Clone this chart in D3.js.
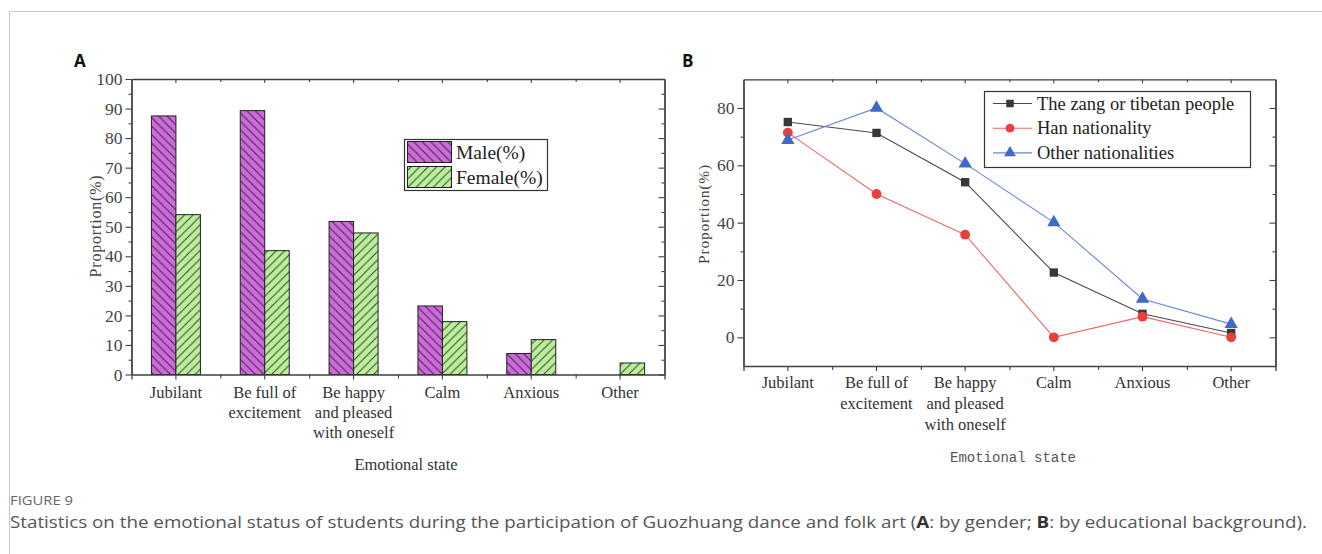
<!DOCTYPE html>
<html>
<head>
<meta charset="utf-8">
<script src="https://cdn.jsdelivr.net/npm/d3@7"></script>
<style>
  body { margin: 0; background: #fff; }
  svg { display: block; }
  .serif { font-family: "Liberation Serif", "Times New Roman", serif; }
</style>
</head>
<body>
<script>
// chart data
var categories = ["Jubilant", "Be full of excitement", "Be happy and pleased with oneself", "Calm", "Anxious", "Other"];
var categoryLines = [["Jubilant"], ["Be full of", "excitement"], ["Be happy", "and pleased", "with oneself"], ["Calm"], ["Anxious"], ["Other"]];
var maleValues = [87.5, 89.3, 51.8, 23.2, 7.1, 0];
var femaleValues = [54.1, 41.9, 47.9, 17.9, 11.8, 3.9];
var zangValues = [75.1, 71.3, 54.1, 22.6, 8.2, 1.5];
var hanValues = [71.4, 50.0, 35.8, 0, 7.2, 0];
var otherValues = [68.8, 80.0, 60.6, 40.1, 13.4, 4.6];
var ticksA = [0, 10, 20, 30, 40, 50, 60, 70, 80, 90, 100];
var ticksB = [0, 20, 40, 60, 80];

var W = 1322, H = 554;
var svg = d3.select("body").append("svg").attr("width", W).attr("height", H);

// card frame
svg.append("rect").attr("x", 9.5).attr("y", 11.5).attr("width", W + 20).attr("height", H + 20)
  .attr("fill", "none").attr("stroke", "#c8c8c8").attr("stroke-width", 1);

var defs = svg.append("defs");
function hatch(id, fill, line, dir) {
  var s = 8.5;
  var p = defs.append("pattern").attr("id", id).attr("patternUnits", "userSpaceOnUse")
    .attr("width", s).attr("height", s);
  p.append("rect").attr("width", s).attr("height", s).attr("fill", fill);
  var d = dir == "back"
    ? "M0,0L" + s + "," + s + "M-1," + (s - 1) + "L1," + (s + 1) + "M" + (s - 1) + ",-1L" + (s + 1) + ",1"
    : "M0," + s + "L" + s + ",0M-1,1L1,-1M" + (s - 1) + "," + (s + 1) + "L" + (s + 1) + "," + (s - 1);
  p.append("path").attr("d", d).attr("stroke", line).attr("stroke-width", 1);
}
hatch("male", "#cb6cd7", "#4a1d58", "back");
hatch("female", "#bdeea0", "#2c4a1c", "fwd");

var axisColor = "#404040";

function styleAxis(g) {
  g.select(".domain").attr("stroke", axisColor).attr("stroke-width", 1.3);
  g.selectAll(".tick line").attr("stroke", axisColor).attr("stroke-width", 1.1);
  g.selectAll(".tick text").attr("fill", "#3a3a3a");
}

function frame(g, x, y, idx, yTicks, yMinor, yMinorLen) {
  var x0 = x.range()[0], x1 = x.range()[1];
  var y0 = y.range()[0], y1 = y.range()[1];
  // bottom axis: category ticks + boundary ticks
  g.append("g").attr("transform", "translate(0," + y0 + ")")
    .call(d3.axisBottom(x).tickSize(5).tickFormat("")).call(styleAxis);
  g.append("g").attr("transform", "translate(0," + y0 + ")")
    .call(d3.axisBottom(idx).tickValues([1, 2, 3, 4, 5]).tickSize(4).tickFormat("")).call(styleAxis)
    .select(".domain").remove();
  // top axis, inward ticks
  g.append("g").attr("transform", "translate(0," + y1 + ")")
    .call(d3.axisBottom(x).tickSize(4).tickSizeOuter(0).tickFormat("")).call(styleAxis);
  g.append("g").attr("transform", "translate(0," + y1 + ")")
    .call(d3.axisBottom(idx).tickValues([1, 2, 3, 4, 5]).tickSize(3).tickFormat("")).call(styleAxis)
    .select(".domain").remove();
  // left axis
  g.append("g").attr("transform", "translate(" + x0 + ",0)")
    .call(d3.axisLeft(y).tickValues(yMinor).tickSize(yMinorLen).tickSizeOuter(0).tickFormat("")).call(styleAxis);
  var la = g.append("g").attr("class", "serif").attr("transform", "translate(" + x0 + ",0)")
    .call(d3.axisLeft(y).tickValues(yTicks).tickSize(6).tickSizeOuter(0).tickPadding(3)).call(styleAxis);
  la.selectAll(".tick text").attr("font-size", 17.5).attr("font-family", "Liberation Serif").attr("fill", "#444");
  // right axis, inward ticks
  g.append("g").attr("transform", "translate(" + x1 + ",0)")
    .call(d3.axisLeft(y).tickValues(yMinor).tickSizeOuter(0).tickFormat("")).call(styleAxis)
    .selectAll(".tick line").attr("x2", -yMinorLen);
  g.append("g").attr("transform", "translate(" + x1 + ",0)")
    .call(d3.axisLeft(y).tickValues(yTicks).tickSizeOuter(0).tickFormat("")).call(styleAxis)
    .selectAll(".tick line").attr("x2", -6);
}

function xLabels(g, x, y0, lineH) {
  categories.forEach(function (c, i) {
    var t = g.append("text").attr("class", "serif").attr("x", x(c) + x.bandwidth() / 2)
      .attr("text-anchor", "middle").attr("font-size", 16.5).attr("fill", "#333");
    categoryLines[i].forEach(function (s, k) {
      t.append("tspan").attr("x", x(c) + x.bandwidth() / 2).attr("y", y0 + k * lineH).text(s);
    });
  });
}

// ---------- panel A ----------
var gA = svg.append("g");
var xA = d3.scaleBand().domain(categories).range([131.5, 664.5]);
var idxA = d3.scaleLinear().domain([0, 6]).range([131.5, 664.5]);
var yA = d3.scaleLinear().domain([0, 100]).range([374.5, 79]);
var barW = 24.5;

gA.selectAll(".male").data(maleValues).enter().append("rect")
  .attr("x", function (d, i) { return xA(categories[i]) + xA.bandwidth() / 2 - barW; })
  .attr("y", function (d) { return yA(d); })
  .attr("width", barW)
  .attr("height", function (d) { return yA(0) - yA(d); })
  .attr("fill", "url(#male)").attr("stroke", "#222").attr("stroke-width", function (d) { return d > 0 ? 1 : 0; });
gA.selectAll(".female").data(femaleValues).enter().append("rect")
  .attr("x", function (d, i) { return xA(categories[i]) + xA.bandwidth() / 2; })
  .attr("y", function (d) { return yA(d); })
  .attr("width", barW)
  .attr("height", function (d) { return yA(0) - yA(d); })
  .attr("fill", "url(#female)").attr("stroke", "#222").attr("stroke-width", 1);

frame(gA, xA, yA, idxA, ticksA, d3.range(5, 100, 10), 3);
xLabels(gA, xA, 398, 20);

gA.append("text").attr("class", "serif").attr("x", 406).attr("y", 470).attr("text-anchor", "middle")
  .attr("font-size", 16.5).attr("fill", "#333").text("Emotional state");
gA.append("text").attr("class", "serif").attr("transform", "translate(101,226) rotate(-90)")
  .attr("text-anchor", "middle").attr("font-size", 16).attr("letter-spacing", 0.8).attr("fill", "#444")
  .text("Proportion(%)");

// legend A
var legA = gA.append("g");
legA.append("rect").attr("x", 404.5).attr("y", 139.5).attr("width", 143).attr("height", 51)
  .attr("fill", "#fff").attr("stroke", "#333").attr("stroke-width", 1.2);
[["male", "Male(%)", 141.5], ["female", "Female(%)", 166.5]].forEach(function (e) {
  legA.append("rect").attr("x", 407.5).attr("y", e[2]).attr("width", 44).attr("height", 21)
    .attr("fill", "url(#" + e[0] + ")").attr("stroke", "#222").attr("stroke-width", 1);
  legA.append("text").attr("class", "serif").attr("x", 456).attr("y", e[2] + 17)
    .attr("font-size", 19.5).attr("fill", "#222").text(e[1]);
});

svg.append("text").attr("x", 74).attr("y", 67).attr("font-family", "Open Sans, sans-serif")
  .attr("font-weight", "bold").attr("font-size", 17).attr("fill", "#111").text("A");

// ---------- panel B ----------
var gB = svg.append("g");
var xB = d3.scaleBand().domain(categories).range([743.5, 1275.5]);
var idxB = d3.scaleLinear().domain([0, 6]).range([743.5, 1275.5]);
var yB = d3.scaleLinear().domain([-10, 90]).range([366, 79.3]);

frame(gB, xB, yB, idxB, ticksB, [10, 30, 50, 70], 3);
xLabels(gB, xB, 388, 21);

gB.append("text").attr("x", 1013).attr("y", 462).attr("text-anchor", "middle")
  .attr("font-family", "Liberation Mono, monospace").attr("font-size", 14).attr("fill", "#555")
  .text("Emotional state");
gB.append("text").attr("class", "serif").attr("transform", "translate(709,214) rotate(-90)")
  .attr("text-anchor", "middle").attr("font-size", 15.5).attr("letter-spacing", 0.8).attr("fill", "#444")
  .text("Proportion(%)");

var seriesB = [
  { name: "The zang or tibetan people", values: zangValues, line: "#4a4a4a", mark: "#383838", shape: d3.symbolSquare, size: 70 },
  { name: "Han nationality", values: hanValues, line: "#ee6a66", mark: "#e8403c", shape: d3.symbolCircle, size: 76 },
  { name: "Other nationalities", values: otherValues, line: "#6a86d6", mark: "#3f68c8", shape: d3.symbolTriangle, size: 76 }
];
var cx = function (i) { return xB(categories[i]) + xB.bandwidth() / 2; };
var lineB = d3.line().x(function (d, i) { return cx(i); }).y(function (d) { return yB(d); });

seriesB.forEach(function (s) {
  gB.append("path").datum(s.values).attr("d", lineB).attr("fill", "none")
    .attr("stroke", s.line).attr("stroke-width", 1.1);
});
seriesB.forEach(function (s) {
  gB.selectAll(null).data(s.values).enter().append("path")
    .attr("d", d3.symbol().type(s.shape).size(s.size))
    .attr("transform", function (d, i) { return "translate(" + cx(i) + "," + yB(d) + ")"; })
    .attr("fill", s.mark);
});

// legend B
var legB = gB.append("g");
legB.append("rect").attr("x", 984.5).attr("y", 91.5).attr("width", 266).attr("height", 76)
  .attr("fill", "#fff").attr("stroke", "#333").attr("stroke-width", 1.2);
seriesB.forEach(function (s, i) {
  var yy = 103.5 + i * 24.7;
  legB.append("line").attr("x1", 993).attr("x2", 1032).attr("y1", yy).attr("y2", yy)
    .attr("stroke", s.line).attr("stroke-width", 1.1);
  legB.append("path").attr("d", d3.symbol().type(s.shape).size(s.size * 0.8))
    .attr("transform", "translate(1010," + yy + ")").attr("fill", s.mark);
  legB.append("text").attr("class", "serif").attr("x", 1037).attr("y", yy + 6)
    .attr("font-size", 18.5).attr("fill", "#222").text(s.name);
});

svg.append("text").attr("x", 682).attr("y", 67).attr("font-family", "Open Sans, sans-serif")
  .attr("font-weight", "bold").attr("font-size", 17).attr("fill", "#111").text("B");

// ---------- caption ----------
svg.append("text").attr("x", 10).attr("y", 505).attr("font-family", "Open Sans, sans-serif")
  .attr("font-size", 13).attr("fill", "#666").attr("textLength", 63).attr("lengthAdjust", "spacingAndGlyphs")
  .text("FIGURE 9");
var cap = svg.append("text").attr("x", 10).attr("y", 528).attr("font-family", "Open Sans, sans-serif")
  .attr("font-size", 16.5).attr("fill", "#555").attr("textLength", 1297).attr("lengthAdjust", "spacingAndGlyphs");
cap.append("tspan").text("Statistics on the emotional status of students during the participation of Guozhuang dance and folk art (");
cap.append("tspan").attr("font-weight", "bold").attr("fill", "#333").text("A");
cap.append("tspan").text(": by gender; ");
cap.append("tspan").attr("font-weight", "bold").attr("fill", "#333").text("B");
cap.append("tspan").text(": by educational background).");
</script>
</body>
</html>
